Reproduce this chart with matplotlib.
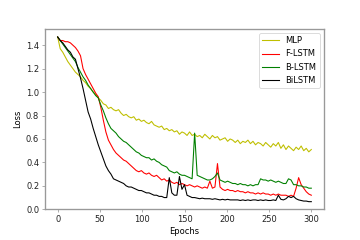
"""
plot.py
-------
Training loss per epoch for the four model variants.
"""

import matplotlib
matplotlib.use("Agg")
import matplotlib.pyplot as plt


# Epochs sampled every 3 steps (0..300).
epochs = list(range(0, 301, 3))

# Loss values, one row = 10 samples (30 epochs).
mlp_loss = [
    1.47, 1.37, 1.34, 1.30, 1.26, 1.23, 1.20, 1.17, 1.15, 1.13,
    1.10, 1.08, 1.05, 1.03, 1.00, 0.98, 0.95, 0.93, 0.90, 0.89,
    0.86, 0.87, 0.85, 0.84, 0.85, 0.82, 0.80, 0.81, 0.79, 0.78,
    0.79, 0.76, 0.77, 0.75, 0.76, 0.74, 0.73, 0.75, 0.72, 0.71,
    0.70, 0.71, 0.68, 0.69, 0.67, 0.68, 0.66, 0.67, 0.64, 0.66,
    0.65, 0.63, 0.66, 0.63, 0.64, 0.62, 0.63, 0.61, 0.64, 0.62,
    0.60, 0.63, 0.61, 0.62, 0.59, 0.60, 0.61, 0.58, 0.60, 0.59,
    0.57, 0.59, 0.56, 0.58, 0.57, 0.59, 0.56, 0.58, 0.55, 0.57,
    0.56, 0.54, 0.57, 0.55, 0.53, 0.56, 0.54, 0.57, 0.52, 0.55,
    0.51, 0.54, 0.52, 0.50, 0.53, 0.51, 0.54, 0.50, 0.52, 0.49,
    0.51,
]
flstm_loss = [
    1.47, 1.44, 1.44, 1.43, 1.43, 1.42, 1.40, 1.38, 1.35, 1.31,
    1.20, 1.15, 1.11, 1.07, 1.03, 0.99, 0.96, 0.87, 0.76, 0.66,
    0.59, 0.55, 0.51, 0.48, 0.46, 0.44, 0.42, 0.41, 0.39, 0.37,
    0.35, 0.33, 0.32, 0.33, 0.31, 0.30, 0.31, 0.29, 0.28, 0.29,
    0.27, 0.25, 0.26, 0.24, 0.25, 0.23, 0.22, 0.23, 0.21, 0.22,
    0.21, 0.20, 0.21, 0.20, 0.19, 0.20, 0.19, 0.18, 0.19, 0.18,
    0.24, 0.18, 0.19, 0.39, 0.19, 0.17, 0.16, 0.17, 0.16, 0.16,
    0.15, 0.16, 0.15, 0.15, 0.14, 0.15, 0.14, 0.14, 0.13, 0.14,
    0.13, 0.14, 0.13, 0.13, 0.12, 0.13, 0.12, 0.13, 0.12, 0.12,
    0.12, 0.11, 0.12, 0.11, 0.18, 0.27, 0.21, 0.18, 0.15, 0.13,
    0.12,
]
blstm_loss = [
    1.47, 1.44, 1.41, 1.38, 1.35, 1.32, 1.29, 1.26, 1.21, 1.17,
    1.13, 1.10, 1.06, 1.03, 1.00, 0.97, 0.95, 0.89, 0.84, 0.78,
    0.73, 0.69, 0.67, 0.65, 0.62, 0.60, 0.58, 0.57, 0.55, 0.53,
    0.51, 0.49, 0.48, 0.46, 0.45, 0.44, 0.44, 0.42, 0.43, 0.41,
    0.40, 0.38, 0.37, 0.36, 0.33, 0.32, 0.31, 0.32, 0.30, 0.29,
    0.29, 0.28, 0.27, 0.26, 0.65, 0.29, 0.28, 0.27, 0.26, 0.25,
    0.25, 0.26, 0.28, 0.31, 0.25, 0.24, 0.23, 0.24, 0.23, 0.22,
    0.22, 0.21, 0.22, 0.21, 0.21, 0.20, 0.21, 0.20, 0.21, 0.21,
    0.26, 0.25, 0.25, 0.24, 0.25, 0.24, 0.23, 0.24, 0.23, 0.22,
    0.22, 0.26, 0.25, 0.21, 0.21, 0.20, 0.20, 0.19, 0.19, 0.18,
    0.18,
]
bilstm_loss = [
    1.47, 1.44, 1.42, 1.39, 1.36, 1.34, 1.30, 1.28, 1.20, 1.12,
    1.03, 0.93, 0.83, 0.77, 0.69, 0.62, 0.55, 0.49, 0.43, 0.37,
    0.33, 0.30, 0.26, 0.25, 0.24, 0.23, 0.22, 0.20, 0.19, 0.19,
    0.18, 0.17, 0.16, 0.16, 0.15, 0.14, 0.14, 0.13, 0.12, 0.12,
    0.11, 0.11, 0.10, 0.10, 0.27, 0.14, 0.12, 0.12, 0.28, 0.17,
    0.21, 0.12, 0.11, 0.10, 0.10, 0.095, 0.09, 0.095, 0.09, 0.09,
    0.09, 0.085, 0.09, 0.085, 0.08, 0.085, 0.08, 0.085, 0.08, 0.08,
    0.08, 0.08, 0.075, 0.08, 0.075, 0.08, 0.075, 0.08, 0.08, 0.075,
    0.08, 0.075, 0.08, 0.075, 0.075, 0.08, 0.075, 0.12, 0.085, 0.08,
    0.09, 0.11, 0.10, 0.11, 0.09, 0.08, 0.075, 0.07, 0.07, 0.065,
    0.065,
]

series_names = ["MLP", "F-LSTM", "B-LSTM", "BiLSTM"]
series_colors = ["y", "r", "g", "k"]

fig, ax = plt.subplots(figsize=(6, 4), dpi=60)
fig.subplots_adjust(left=0.125, right=0.9, top=0.88, bottom=0.128)

for name, color, values in zip(series_names, series_colors,
                               [mlp_loss, flstm_loss, blstm_loss, bilstm_loss]):
    ax.plot(epochs, values, color=color, lw=1.3, label=name)

ax.set_ylim(0, 1.54)
ax.set_xlabel("Epochs", fontsize=10)
ax.set_ylabel("Loss", fontsize=10)
ax.tick_params(labelsize=10, color="#888888", labelcolor="#222222")
for spine in ax.spines.values():
    spine.set_color("#999999")
    spine.set_linewidth(1.6)
ax.legend(loc="upper right", fontsize=10)

fig.savefig("out.png", dpi=60)
